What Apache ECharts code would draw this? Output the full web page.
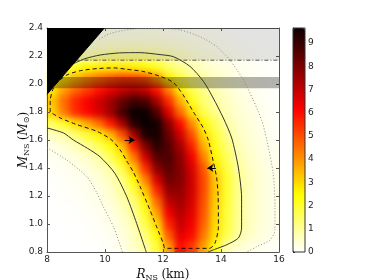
<!DOCTYPE html>
<html><head><meta charset="utf-8">
<script src="https://cdn.jsdelivr.net/npm/echarts@6/dist/echarts.min.js"></script>
<style>
html,body{margin:0;padding:0;background:#fff;}
#wrap{position:relative;width:374px;height:280px;overflow:hidden;background:#fff;}
.layer{position:absolute;left:0;top:0;width:374px;height:280px;}
#clip{position:absolute;left:47px;top:28px;width:232px;height:224px;overflow:hidden;}
#blur{position:absolute;left:-47px;top:-28px;width:374px;height:280px;filter:blur(3.5px);}
</style></head><body>
<div id="wrap">
 <div id="base" class="layer"></div>
 <div id="clip"><div id="blur"></div></div>
 <div id="main" class="layer"></div>
</div>
<script>
// ---- data ----
const R_CENTERS = [8.2,8.6,9.0,9.4,9.8,10.2,10.6,11.0,11.4,11.8,12.2,12.6,13.0,13.4,13.8,14.2,14.6,15.0,15.4,15.8];
const M_CENTERS = [0.84,0.92,1.00,1.08,1.16,1.24,1.32,1.40,1.48,1.56,1.64,1.72,1.80,1.88,1.96,2.04,2.12,2.20,2.28,2.36];
const m084 = [0,0,0,0,0.03,0.1,0.22,0.5,0.95,1.9,3.8,6.0,5.3,3.8,2.4,0.75,0.45,0.3,0.15,0.06];
const m092 = [0,0,0.01,0.03,0.07,0.14,0.3,0.6,1.3,2.4,4.8,6.5,6.0,4.4,2.85,1.7,0.92,0.55,0.33,0.19];
const m100 = [0,0.01,0.02,0.05,0.1,0.19,0.4,0.8,1.7,3.0,5.6,6.9,6.3,4.7,3.0,1.85,1.0,0.62,0.38,0.22];
const m108 = [0.01,0.02,0.04,0.08,0.15,0.26,0.55,1.0,2.1,3.8,6.3,7.2,6.5,4.9,3.1,1.9,1.05,0.63,0.38,0.22];
const m116 = [0.02,0.04,0.07,0.12,0.2,0.38,0.72,1.3,2.6,4.6,7.0,7.5,6.7,5.0,3.2,1.95,1.05,0.63,0.38,0.22];
const m124 = [0.03,0.06,0.1,0.16,0.26,0.5,0.95,1.8,3.3,5.6,7.7,7.7,6.8,5.1,3.3,2.0,1.1,0.65,0.38,0.22];
const m132 = [0.05,0.09,0.14,0.21,0.36,0.65,1.2,2.4,4.3,6.7,8.2,7.9,6.8,5.1,3.3,2.0,1.1,0.65,0.38,0.22];
const m140 = [0.08,0.13,0.2,0.32,0.55,0.9,1.8,3.3,5.5,7.8,8.5,7.9,6.7,4.9,2.9,1.85,0.95,0.6,0.36,0.21];
const m148 = [0.13,0.22,0.35,0.55,0.88,1.6,2.6,4.4,6.8,8.6,8.7,7.8,6.3,4.3,2.5,1.6,0.8,0.52,0.3,0.17];
const m156 = [0.25,0.4,0.65,1.05,1.6,2.3,3.4,5.7,8.0,9.2,8.6,7.4,5.7,3.6,2.2,1.35,0.7,0.45,0.27,0.12];
const m164 = [0.6,0.9,1.4,2.0,2.6,3.5,5.0,7.4,9.4,9.5,8.3,6.8,5.0,3.0,1.95,1.1,0.6,0.4,0.24,0.1];
const m172 = [1.6,2.1,2.9,3.7,4.6,5.8,7.4,9.3,9.65,9.5,7.8,6.0,4.1,2.5,1.6,0.85,0.52,0.34,0.2,0.08];
const m180 = [3.1,4.4,5.5,6.1,6.7,7.5,8.8,9.65,9.65,8.6,6.6,4.6,2.9,1.7,1.1,0.7,0.42,0.28,0.17,0.07];
const m188 = [3.3,4.6,5.6,6.2,6.8,7.5,8.3,8.9,8.7,7.4,5.5,3.6,2.2,1.4,0.9,0.6,0.38,0.24,0.14,0.06];
const m196 = [2.8,3.9,4.7,5.3,5.9,6.5,7.0,7.3,7.0,5.9,4.3,2.7,1.7,1.1,0.75,0.5,0.32,0.19,0.11,0.05];
const m204 = [2.0,2.8,3.5,4.1,4.6,5.0,5.3,5.3,5.0,4.0,2.7,1.8,1.2,0.85,0.58,0.4,0.25,0.15,0.08,0.04];
const m212 = [1.0,1.6,2.2,2.55,2.7,2.75,2.8,2.7,2.5,2.1,1.5,1.1,0.85,0.6,0.43,0.3,0.2,0.12,0.06,0.03];
const m220 = [0.3,0.5,0.65,0.8,0.95,1.05,1.1,1.1,1.05,0.95,0.8,0.6,0.45,0.33,0.25,0.18,0.12,0.07,0.04,0.02];
const m228 = [0.15,0.25,0.33,0.38,0.42,0.45,0.47,0.47,0.46,0.43,0.38,0.32,0.26,0.2,0.16,0.11,0.07,0.04,0.02,0.01];
const m236 = [0.06,0.1,0.14,0.17,0.2,0.21,0.22,0.22,0.22,0.21,0.2,0.18,0.15,0.12,0.09,0.06,0.04,0.02,0.01,0];

// contours [R, M]
const contourDashed = [[8.11,1.80],[8.11,1.88],[8.2,1.96],[8.34,2.01],[8.69,2.065],[9.15,2.095],[9.72,2.11],[10.3,2.115],[10.75,2.105],[11.3,2.09],[11.9,2.055],[12.36,2.01],[12.7,1.92],[13.05,1.80],[13.39,1.686],[13.56,1.60],[13.73,1.45],[13.85,1.33],[13.9,1.2],[13.91,0.98],[13.79,0.862],[13.6,0.826],[13.16,0.826],[12.47,0.826],[12.07,0.826],[12.01,0.862],[11.78,0.98],[11.55,1.10],[11.21,1.267],[10.98,1.37],[10.75,1.45],[10.52,1.53],[10.2,1.605],[9.72,1.662],[9.03,1.71],[8.46,1.757],[8.11,1.80]];
const contourSolidUpper = [[8.75,2.13],[9.3,2.18],[9.83,2.207],[10.5,2.222],[11.2,2.224],[11.9,2.21],[12.36,2.195],[12.93,2.126],[13.39,2.02],[13.73,1.90],[14.08,1.757],[14.37,1.614],[14.6,1.40],[14.71,1.186],[14.71,0.971],[14.6,0.9],[14.2,0.852],[13.8,0.82],[13.55,0.8]];
const contourSolidLower = [[8,1.686],[8.57,1.65],[8.91,1.6],[9.4,1.54],[9.83,1.48],[10.34,1.362],[10.75,1.195],[11.09,1.005],[11.38,0.826],[11.42,0.8]];
const contourDottedUpper = [[9.8,2.32],[10.17,2.36],[10.7,2.385],[11.2,2.395],[12.0,2.395],[12.59,2.386],[13.28,2.338],[13.85,2.267],[14.31,2.17],[14.77,2.03],[15.11,1.886],[15.4,1.743],[15.58,1.6],[15.8,1.362],[15.86,1.124],[15.86,0.957],[15.69,0.886],[15.23,0.838],[14.89,0.8]];
const contourDottedLower = [[8,1.545],[8.68,1.457],[9.37,1.338],[9.7,1.23],[9.94,1.124],[10.29,0.981],[10.58,0.814],[10.6,0.8]];
const causalityEdge = [[8,1.926],[9.98,2.4]];
const dashDotLine = [[8.98,2.17],[16,2.17]];
const lightBand = [2.17, 2.4];
const darkBand = [1.97, 2.05];
const arrow1 = [[10.68,1.6],[11.02,1.6]];
const arrow2 = [[13.82,1.4],[13.53,1.4]];
const VMAX = 9.65;
const COLORBAR_TICKS = [0,1,2,3,4,5,6,7,8,9];

// ---- build ----
const ROWS = [m084,m092,m100,m108,m116,m124,m132,m140,m148,m156,m164,m172,m180,m188,m196,m204,m212,m220,m228,m236];
const cells = [];
ROWS.forEach((row, j) => row.forEach((v, i) => cells.push([i, j, v])));

function hotR(f){
  const t = 1 - f;
  const a = 0.365079, b = 0.746032;
  const r = t < a ? 0.0416 + (1 - 0.0416) * t / a : 1;
  const g = t < a ? 0 : (t < b ? (t - a) / (b - a) : 1);
  const bl = t < b ? 0 : (t - b) / (1 - b);
  const h = x => Math.round(Math.max(0, Math.min(1, x)) * 255);
  return 'rgb(' + h(r) + ',' + h(g) + ',' + h(bl) + ')';
}
const HOT = [];
for (let k = 0; k <= 48; k++) HOT.push(hotR(k / 48));

const GRID_RECT = {left: 47, top: 28, width: 232, height: 224, outerBoundsMode: 'none', containLabel: false};

function heatOption(){
  return {
    animation: false,
    grid: Object.assign({}, GRID_RECT),
    xAxis: {type: 'category', data: R_CENTERS, show: false},
    yAxis: {type: 'category', data: M_CENTERS, show: false},
    visualMap: {show: false, min: 0, max: VMAX, dimension: 2, seriesIndex: 0, inRange: {color: HOT}},
    series: [{type: 'heatmap', data: cells, progressive: 0, silent: true, itemStyle: {borderWidth: 0}}]
  };
}
echarts.init(document.getElementById('base'), null, {renderer: 'canvas'}).setOption(heatOption());
echarts.init(document.getElementById('blur'), null, {renderer: 'canvas'}).setOption(heatOption());

const FRAME = '#555';
const serif = 'DejaVu Serif';
const nameRich = {
  i: {fontFamily: serif, fontStyle: 'italic', fontSize: 12, color: '#111'},
  s: {fontFamily: serif, fontSize: 8, color: '#111', padding: [6, 0, 0, 0]},
  n: {fontFamily: serif, fontSize: 12, color: '#111'}
};
const tickLabel = {fontFamily: 'DejaVu Sans', fontSize: 9, color: '#222'};

const lineBase = {type: 'line', symbol: 'none', showSymbol: false, silent: true, animation: false, clip: true, xAxisIndex: 0, yAxisIndex: 0};

const option = {
  animation: false,
  grid: [
    Object.assign({show: false}, GRID_RECT),
    {left: 293, top: 28, width: 12, height: 224, outerBoundsMode: 'none', containLabel: false, show: true, borderColor: '#333', borderWidth: 1, backgroundColor: 'transparent', z: 6}
  ],
  xAxis: [
    {gridIndex: 0, type: 'value', min: 8, max: 16, interval: 2, position: 'bottom',
     axisLine: {show: true, onZero: false, lineStyle: {color: FRAME}},
     axisTick: {show: true, inside: true, length: 3, lineStyle: {color: FRAME}},
     axisLabel: Object.assign({margin: 3}, tickLabel),
     splitLine: {show: false},
     name: '{i|R}{s|NS} {n|(km)}', nameLocation: 'middle', nameGap: 13,
     nameTextStyle: {rich: nameRich}},
    {gridIndex: 0, type: 'value', min: 8, max: 16, interval: 2, position: 'top',
     axisLine: {show: true, onZero: false, lineStyle: {color: FRAME}},
     axisTick: {show: true, inside: true, length: 3, lineStyle: {color: FRAME}},
     axisLabel: {show: false}, splitLine: {show: false}},
    {gridIndex: 1, type: 'value', min: 0, max: 1, show: false}
  ],
  yAxis: [
    {gridIndex: 0, type: 'value', min: 0.8, max: 2.4, interval: 0.2, position: 'left',
     axisLine: {show: true, onZero: false, lineStyle: {color: FRAME}},
     axisTick: {show: true, inside: true, length: 3, lineStyle: {color: FRAME}},
     axisLabel: Object.assign({margin: 4, formatter: v => v.toFixed(1)}, tickLabel),
     splitLine: {show: false},
     name: '{i|M}{s|NS} {n|(}{i|M}{s|⊙}{n|)}', nameLocation: 'middle', nameGap: 16, nameRotate: 90,
     nameMoveOverlap: false,
     nameTextStyle: {rich: nameRich}},
    {gridIndex: 0, type: 'value', min: 0.8, max: 2.4, interval: 0.2, position: 'right',
     axisLine: {show: true, onZero: false, lineStyle: {color: FRAME}},
     axisTick: {show: true, inside: true, length: 3, lineStyle: {color: FRAME}},
     axisLabel: {show: false}, splitLine: {show: false}},
    {gridIndex: 1, type: 'value', min: 0, max: VMAX, interval: 1, position: 'right',
     axisLine: {show: true, lineStyle: {color: '#333'}},
     axisTick: {show: true, length: 2, lineStyle: {color: '#333'}},
     axisLabel: Object.assign({margin: 3, formatter: v => (COLORBAR_TICKS.indexOf(v) >= 0 ? String(v) : '')}, tickLabel),
     splitLine: {show: false}}
  ],
  visualMap: [{
    type: 'continuous', show: true, min: 0, max: VMAX, seriesIndex: 0, calculable: false,
    left: 293, top: 28, itemWidth: 12, itemHeight: 224, padding: 0, z: 3,
    hoverLink: false, inRange: {color: HOT}
  }],
  series: [
    {type: 'scatter', xAxisIndex: 2, yAxisIndex: 2, data: [], silent: true},
    Object.assign({}, lineBase, {data: dashDotLine, z: 2,
      lineStyle: {color: '#555', width: 1, type: [4, 2, 1, 2]},
      markArea: {silent: true, label: {show: false},
        data: [
          [{coord: [8, lightBand[0]], itemStyle: {color: 'rgba(0,0,0,0.11)'}}, {coord: [16, lightBand[1]]}],
          [{coord: [8, darkBand[0]], itemStyle: {color: 'rgba(0,0,0,0.3)'}}, {coord: [16, darkBand[1]]}]
        ]}}),
    Object.assign({}, lineBase, {data: contourSolidUpper, smooth: 0.25, z: 3, lineStyle: {color: '#333', width: 1}}),
    Object.assign({}, lineBase, {data: contourSolidLower, smooth: 0.25, z: 3, lineStyle: {color: '#333', width: 1}}),
    Object.assign({}, lineBase, {data: contourDashed, smooth: 0.25, z: 3, lineStyle: {color: '#111', width: 1, type: [4, 3]}}),
    Object.assign({}, lineBase, {data: contourDottedUpper, smooth: 0.25, z: 3, lineStyle: {color: '#888', width: 1, type: [1, 2]}}),
    Object.assign({}, lineBase, {data: contourDottedLower, smooth: 0.25, z: 3, lineStyle: {color: '#888', width: 1, type: [1, 2]}}),
    Object.assign({}, lineBase, {data: causalityEdge, z: 5, lineStyle: {color: '#000', width: 1},
      areaStyle: {color: '#000', opacity: 1, origin: 'end'}}),
    Object.assign({}, lineBase, {data: [], z: 6,
      markLine: {silent: true, symbol: ['none', 'arrow'], symbolSize: 6, label: {show: false},
        lineStyle: {color: '#000', width: 1, type: 'solid'},
        data: [
          [{coord: arrow1[0]}, {coord: arrow1[1]}],
          [{coord: arrow2[0]}, {coord: arrow2[1]}]
        ]}})
  ]
};
echarts.init(document.getElementById('main'), null, {renderer: 'canvas'}).setOption(option);
</script>
</body></html>
